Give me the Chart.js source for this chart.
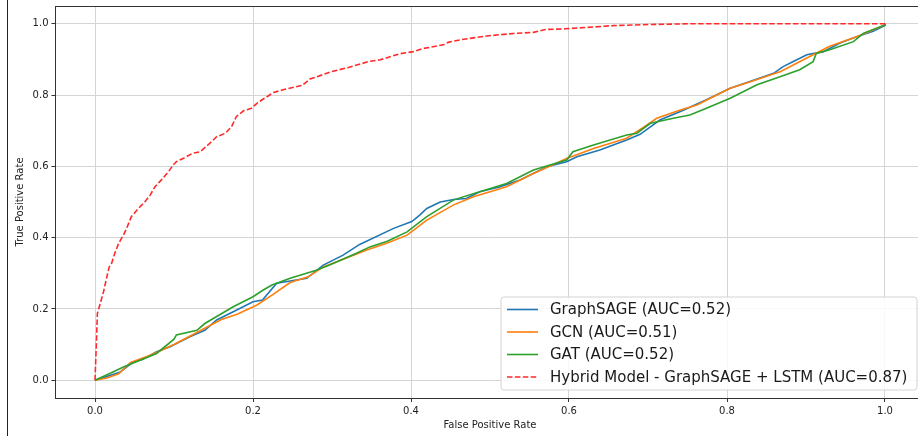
<!DOCTYPE html>
<html>
<head>
<meta charset="utf-8">
<script src="https://cdn.jsdelivr.net/npm/chart.js@4.4.0/dist/chart.umd.min.js"></script>
<style>
  html, body { margin: 0; padding: 0; background: #fff; overflow: hidden; }
  #wrap { position: relative; width: 918px; height: 436px; overflow: hidden; }
  #edge { position: absolute; left: 7px; top: 0; width: 1px; height: 436px; background: #222; }
  canvas { position: absolute; left: 0; top: 0; }
</style>
</head>
<body>
<div id="wrap">
  <canvas id="roc" width="930" height="436"></canvas>
  <div id="edge"></div>
</div>
<script>
// series labels, in legend order
var seriesLabels = ['GraphSAGE (AUC=0.52)', 'GCN (AUC=0.51)', 'GAT (AUC=0.52)', 'Hybrid Model - GraphSAGE + LSTM (AUC=0.87)'];
var tickValues = [0, 0.2, 0.4, 0.6, 0.8, 1.0];

// GraphSAGE
var sageFpr = [0, 0.012, 0.032, 0.048, 0.06, 0.078, 0.095, 0.12, 0.139, 0.154, 0.175, 0.2, 0.212, 0.23, 0.268, 0.289, 0.314, 0.335, 0.378, 0.401, 0.411, 0.42, 0.437, 0.454, 0.47, 0.487, 0.513, 0.538, 0.572, 0.597, 0.61, 0.639, 0.673, 0.69, 0.703, 0.715, 0.741, 0.774, 0.804, 0.829, 0.859, 0.871, 0.884, 0.901, 0.922, 0.943, 0.964, 0.985, 1.0, 1.0];
var sageTpr = [0, 0.008, 0.023, 0.051, 0.058, 0.080, 0.094, 0.122, 0.140, 0.169, 0.192, 0.220, 0.225, 0.272, 0.286, 0.323, 0.351, 0.381, 0.426, 0.445, 0.463, 0.482, 0.500, 0.507, 0.510, 0.529, 0.543, 0.562, 0.599, 0.613, 0.627, 0.646, 0.674, 0.690, 0.711, 0.730, 0.754, 0.787, 0.819, 0.838, 0.861, 0.880, 0.894, 0.913, 0.922, 0.946, 0.964, 0.979, 0.995, 1.0];

// GCN
var gcnFpr = [0, 0.015, 0.03, 0.045, 0.07, 0.1, 0.13, 0.16, 0.18, 0.205, 0.225, 0.247, 0.27, 0.289, 0.315, 0.344, 0.37, 0.395, 0.42, 0.454, 0.479, 0.521, 0.555, 0.597, 0.631, 0.673, 0.695, 0.711, 0.741, 0.762, 0.804, 0.824, 0.868, 0.901, 0.93, 0.964, 1.0, 1.0];
var gcnTpr = [0, 0.006, 0.018, 0.050, 0.070, 0.100, 0.135, 0.170, 0.185, 0.211, 0.240, 0.274, 0.290, 0.318, 0.340, 0.365, 0.385, 0.407, 0.449, 0.492, 0.515, 0.543, 0.580, 0.622, 0.650, 0.679, 0.711, 0.735, 0.758, 0.772, 0.819, 0.833, 0.866, 0.904, 0.937, 0.964, 0.997, 1.0];

// GAT
var gatFpr = [0, 0.02, 0.036, 0.078, 0.1, 0.103, 0.129, 0.139, 0.175, 0.2, 0.213, 0.224, 0.247, 0.281, 0.297, 0.331, 0.348, 0.37, 0.395, 0.42, 0.454, 0.487, 0.521, 0.555, 0.597, 0.605, 0.631, 0.673, 0.686, 0.703, 0.732, 0.753, 0.774, 0.804, 0.838, 0.868, 0.892, 0.909, 0.913, 0.93, 0.96, 0.973, 1.0, 1.0];
var gatTpr = [0, 0.02, 0.037, 0.075, 0.115, 0.127, 0.140, 0.159, 0.206, 0.234, 0.253, 0.267, 0.286, 0.309, 0.323, 0.356, 0.374, 0.390, 0.416, 0.459, 0.506, 0.529, 0.552, 0.590, 0.618, 0.641, 0.660, 0.688, 0.693, 0.721, 0.735, 0.744, 0.763, 0.791, 0.829, 0.852, 0.871, 0.894, 0.917, 0.927, 0.950, 0.974, 0.997, 1.0];

// Hybrid GraphSAGE + LSTM
var hybridFpr = [0, 0.001, 0.002, 0.003, 0.006, 0.011, 0.015, 0.018, 0.021, 0.025, 0.03, 0.036, 0.04, 0.046, 0.055, 0.063, 0.07, 0.076, 0.084, 0.093, 0.099, 0.103, 0.114, 0.124, 0.133, 0.143, 0.154, 0.165, 0.173, 0.179, 0.188, 0.198, 0.205, 0.213, 0.226, 0.238, 0.262, 0.272, 0.3, 0.323, 0.348, 0.361, 0.386, 0.403, 0.416, 0.441, 0.447, 0.462, 0.496, 0.53, 0.555, 0.57, 0.595, 0.63, 0.656, 0.7, 0.75, 1.0];
var hybridTpr = [0, 0.06, 0.12, 0.187, 0.21, 0.25, 0.29, 0.318, 0.328, 0.356, 0.384, 0.407, 0.426, 0.459, 0.482, 0.5, 0.52, 0.543, 0.562, 0.585, 0.604, 0.613, 0.625, 0.637, 0.641, 0.66, 0.683, 0.693, 0.712, 0.74, 0.756, 0.763, 0.777, 0.789, 0.807, 0.815, 0.827, 0.845, 0.866, 0.879, 0.895, 0.899, 0.916, 0.922, 0.931, 0.941, 0.948, 0.955, 0.966, 0.973, 0.976, 0.984, 0.986, 0.991, 0.995, 0.998, 1.0, 1.0];

function toPoints(xs, ys) {
    return xs.map(function (x, i) { return { x: x, y: ys[i] }; });
}

var font = '"DejaVu Sans", sans-serif';

// matplotlib-style legend box (lower right) and the top spine
var rocLegend = {
    id: 'rocLegend',
    afterDatasetsDraw: function (chart) {
        var ctx = chart.ctx, area = chart.chartArea;
        ctx.save();
        ctx.strokeStyle = '#333';
        ctx.lineWidth = 1;
        ctx.beginPath();
        ctx.moveTo(area.left, area.top + 0.5);
        ctx.lineTo(area.right, area.top + 0.5);
        ctx.stroke();

        var w = 416, h = 93, r = 3;
        var x0 = area.right - 7.5 - w, y0 = area.bottom - 8 - h;
        ctx.beginPath();
        ctx.moveTo(x0 + r, y0);
        ctx.arcTo(x0 + w, y0, x0 + w, y0 + h, r);
        ctx.arcTo(x0 + w, y0 + h, x0, y0 + h, r);
        ctx.arcTo(x0, y0 + h, x0, y0, r);
        ctx.arcTo(x0, y0, x0 + w, y0, r);
        ctx.closePath();
        ctx.fillStyle = 'rgba(255,255,255,0.85)';
        ctx.fill();
        ctx.strokeStyle = '#d3d3d3';
        ctx.stroke();

        ctx.font = '15px ' + font;
        ctx.textBaseline = 'middle';
        chart.data.datasets.forEach(function (ds, i) {
            var y = y0 + 12.5 + i * 22.5;
            ctx.strokeStyle = ds.borderColor;
            ctx.lineWidth = ds.borderWidth;
            ctx.setLineDash(ds.borderDash || []);
            ctx.beginPath();
            ctx.moveTo(x0 + 6, y);
            ctx.lineTo(x0 + 37, y);
            ctx.stroke();
            ctx.setLineDash([]);
            ctx.fillStyle = '#1a1a1a';
            ctx.fillText(ds.label, x0 + 49, y + 1);
        });
        ctx.restore();
    }
};

function axisOptions(title, titlePadding, size, isY) {
    return {
        type: 'linear',
        min: -0.05,
        max: 1.05,
        afterBuildTicks: function (scale) {
            scale.ticks = tickValues.map(function (v) { return { value: v }; });
        },
        afterFit: function (scale) {
            // fixed axis box, no extra room for half labels at the ends
            if (isY) scale.width = size; else scale.height = size;
            scale.paddingTop = 0;
            scale.paddingBottom = 0;
            scale.paddingLeft = 0;
            scale.paddingRight = 0;
        },
        border: { color: '#333', width: 1 },
        grid: { color: '#d4d4d4', lineWidth: 1, tickLength: 4, tickColor: '#333' },
        ticks: {
            color: '#222',
            padding: 3,
            font: { family: font, size: 10 },
            callback: function (v) { return Number(v).toFixed(1); }
        },
        title: {
            display: true,
            text: title,
            color: '#222',
            font: { family: font, size: 10 },
            padding: titlePadding
        }
    };
}

new Chart(document.getElementById('roc'), {
    type: 'line',
    data: {
        datasets: [{
            label: seriesLabels[0],
            data: toPoints(sageFpr, sageTpr),
            borderColor: '#1f77b4',
            borderWidth: 1.6,
            order: 3
        }, {
            label: seriesLabels[1],
            data: toPoints(gcnFpr, gcnTpr),
            borderColor: '#ff7f0e',
            borderWidth: 1.6,
            order: 2
        }, {
            label: seriesLabels[2],
            data: toPoints(gatFpr, gatTpr),
            borderColor: '#2ca02c',
            borderWidth: 1.6,
            order: 1
        }, {
            label: seriesLabels[3],
            data: toPoints(hybridFpr, hybridTpr),
            borderColor: '#ff2a2a',
            borderWidth: 1.6,
            borderDash: [5.5, 2.4],
            order: 0
        }]
    },
    options: {
        responsive: false,
        animation: false,
        layout: { padding: { left: 0, top: 6, right: 5.5, bottom: 0 } },
        elements: { point: { radius: 0 }, line: { tension: 0 } },
        plugins: { legend: { display: false }, tooltip: { enabled: false } },
        scales: {
            x: axisOptions('False Positive Rate', { top: 0, bottom: 5 }, 38, false),
            y: axisOptions('True Positive Rate', { top: 14, bottom: 0 }, 55.5, true)
        }
    },
    plugins: [rocLegend]
});
</script>
</body>
</html>
